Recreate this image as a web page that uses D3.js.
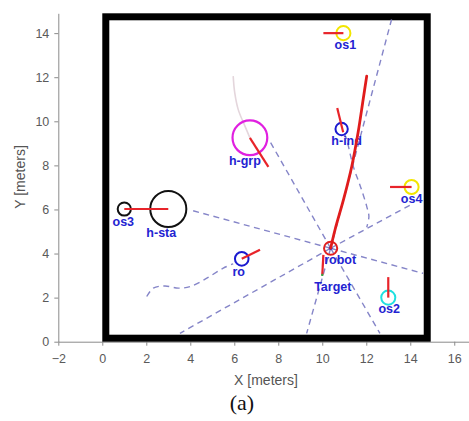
<!DOCTYPE html>
<html><head><meta charset="utf-8">
<script src="https://cdn.jsdelivr.net/npm/d3@7"></script>
<style>
html,body{margin:0;padding:0;background:#fff;}
svg{display:block;}
</style></head>
<body>
<svg id="chart" width="469" height="421"></svg>
<script>
// ---------- data (meters) ----------
const xTicks = [-2, 0, 2, 4, 6, 8, 10, 12, 14, 16];
const yTicks = [0, 2, 4, 6, 8, 10, 12, 14];
const wall = [0, 0, 14.93, 14.9]; // x0, y0, x1, y1

const agentNames = ["os1", "h-ind", "h-grp", "h-sta", "os3", "os4", "ro", "robot", "os2"];
const agentX     = [10.96, 10.88, 6.71, 3.0, 1.0, 14.06, 6.34, 10.38, 13.0];
const agentY     = [14.0, 9.65, 9.25, 6.02, 6.02, 7.02, 3.76, 4.24, 2.0];
const agentR     = [0.32, 0.28, 0.79, 0.82, 0.30, 0.32, 0.31, 0.30, 0.32];

// heading segments [x1, y1, x2, y2]
const headings = [
  [10.05, 14.0, 10.96, 14.0],
  [10.68, 10.6, 10.95, 9.5],
  [6.71, 9.25, 7.55, 7.93],
  [1.0, 6.02, 3.0, 6.02],
  [13.08, 7.02, 14.06, 7.02],
  [6.34, 3.76, 7.17, 4.17],
  [13.0, 2.93, 13.0, 2.0],
  [10.05, 3.94, 10.0, 3.03]
];

// robot trajectory (thick red)
const trajX = [10.38, 10.58, 10.98, 11.34, 11.63, 11.86, 12.02];
const trajY = [4.24, 5.08, 6.5, 7.95, 9.5, 11.0, 12.05];

// straight dashed rays from robot to end points
const rayEndX = [13.15, 7.62, 3.99, 14.0, 14.59, 12.62, 9.29, 3.53];
const rayEndY = [14.62, 9.09, 5.98, 6.2, 3.1, 0.38, 0.38, 0.38];

// curved dashed paths
const hindPathX = [11.0, 11.11, 11.41, 11.75, 12.02, 12.12, 12.02];
const hindPathY = [9.45, 9.17, 7.95, 7.0, 6.14, 5.68, 5.19];
const roPathX = [2.02, 2.32, 2.85, 3.45, 3.99, 4.75, 5.5, 5.95];
const roPathY = [2.05, 2.43, 2.53, 2.43, 2.5, 2.88, 3.34, 3.53];
const grpTrailX = [5.95, 6.02, 6.18, 6.49, 6.71];
const grpTrailY = [12.05, 11.3, 10.53, 9.77, 9.25];

const targetPoint = [10.0, 3.03];

// ---------- styles ----------
const circleColor = {"os1":"#f2e600","h-ind":"#1a1ad0","h-grp":"#e020e0","h-sta":"#111","os3":"#111",
  "os4":"#f2e600","ro":"#1a1ad0","robot":"#e02020","os2":"#20e0e0"};
const labelOffset = {"os1":[2,12],"h-ind":[5,11.5],"h-grp":[-5,23.5],"h-sta":[-7,24],"os3":[-1,12.5],
  "os4":[0,12],"ro":[-3,12.7],"robot":[9.5,12],"os2":[1,11.5]};

const svg = d3.select("#chart");
const x = d3.scaleLinear().domain([-2, 16.67]).range([58.3, 469]);
const y = d3.scaleLinear().domain([0, 14.9]).range([341.7, 13.3]);

// axes
const gx = svg.append("g").attr("transform", `translate(0,${y(0)})`)
  .call(d3.axisBottom(x).tickValues(xTicks).tickSize(4).tickSizeOuter(0).tickFormat(d3.format("d")));
const gy = svg.append("g").attr("transform", `translate(${x(-2)},0)`)
  .call(d3.axisLeft(y).tickValues(yTicks).tickSize(4).tickSizeOuter(0).tickFormat(d3.format("d")));
[gx, gy].forEach(g => {
  g.select(".domain").attr("stroke", "#8a8a8a");
  g.selectAll(".tick line").attr("stroke", "#8a8a8a");
  g.selectAll(".tick text").attr("fill", "#5a5a5a").style("font-family", "Liberation Sans, Arial, sans-serif").style("font-size", "12.5px");
});
gx.selectAll(".tick text").attr("dy", "1.15em");
gy.selectAll(".tick text").attr("dx", "-2");

svg.append("text").attr("x", 266).attr("y", 385).attr("text-anchor", "middle")
  .attr("fill", "#555").style("font-family", "Liberation Sans, Arial, sans-serif").style("font-size", "14px")
  .text("X [meters]");
svg.append("text").attr("transform", "translate(25,177) rotate(-90)").attr("text-anchor", "middle")
  .attr("fill", "#555").style("font-family", "Liberation Sans, Arial, sans-serif").style("font-size", "14px")
  .text("Y [meters]");
svg.append("text").attr("x", 242).attr("y", 410).attr("text-anchor", "middle")
  .attr("fill", "#111").style("font-family", "Liberation Serif, Times New Roman, serif").style("font-size", "22px")
  .text("(a)");

// walls
const sw = 7;
svg.append("rect")
  .attr("x", x(wall[0]) + sw/2).attr("y", y(wall[3]) + sw/2)
  .attr("width", x(wall[2]) - x(wall[0]) - sw).attr("height", y(wall[1]) - y(wall[3]) - sw)
  .attr("fill", "none").attr("stroke", "#000").attr("stroke-width", sw);

const line = d3.line().x(d => x(d[0])).y(d => y(d[1]));
const curve = d3.line().x(d => x(d[0])).y(d => y(d[1])).curve(d3.curveCatmullRom);
const dashStyle = s => s.attr("fill", "none").attr("stroke", "#8585c8").attr("stroke-width", 1.4).attr("stroke-dasharray", "6,4.5");

// faint trail of h-grp
svg.append("path").datum(grpTrailX.map((v, i) => [v, grpTrailY[i]]))
  .attr("d", curve).attr("fill", "none").attr("stroke", "#e4d6dc").attr("stroke-width", 1.6);

// dashed rays
const robotIdx = agentNames.indexOf("robot");
const rx = agentX[robotIdx], ry = agentY[robotIdx];
rayEndX.forEach((ex, i) => {
  svg.append("path").datum([[rx, ry], [ex, rayEndY[i]]]).attr("d", line).call(dashStyle);
});
svg.append("path").datum(hindPathX.map((v, i) => [v, hindPathY[i]])).attr("d", curve).call(dashStyle);
svg.append("path").datum(roPathX.map((v, i) => [v, roPathY[i]])).attr("d", curve).call(dashStyle);

// circles
agentNames.forEach((n, i) => {
  svg.append("circle").attr("cx", x(agentX[i])).attr("cy", y(agentY[i]))
    .attr("r", x(agentR[i]) - x(0)).attr("fill", "none")
    .attr("stroke", circleColor[n]).attr("stroke-width", n === "h-grp" ? 2.2 : 2);
});
svg.append("circle").attr("cx", x(rx)).attr("cy", y(ry)).attr("r", 1.8).attr("fill", "#3030d0");

// labels
const labelStyle = s => s.attr("fill", "#2323d2").style("font-family", "Liberation Sans, Arial, sans-serif")
  .style("font-size", "12.5px").style("font-weight", "bold").attr("text-anchor", "middle").attr("dominant-baseline", "central");
agentNames.forEach((n, i) => {
  const o = labelOffset[n];
  svg.append("text").attr("x", x(agentX[i]) + o[0]).attr("y", y(agentY[i]) + o[1]).call(labelStyle).text(n);
});
svg.append("text").attr("x", x(targetPoint[0]) + 10.5).attr("y", y(targetPoint[1]) + 12).call(labelStyle).text("Target");

// trajectory
svg.append("path").datum(trajX.map((v, i) => [v, trajY[i]])).attr("d", curve)
  .attr("fill", "none").attr("stroke", "#e01c1c").attr("stroke-width", 2.8).attr("stroke-linecap", "round");

// headings
headings.forEach(h => {
  svg.append("path").datum([[h[0], h[1]], [h[2], h[3]]]).attr("d", line)
    .attr("fill", "none").attr("stroke", "#e8242a").attr("stroke-width", 2.2);
});
svg.append("circle").attr("cx", x(targetPoint[0])).attr("cy", y(targetPoint[1])).attr("r", 1.2).attr("fill", "#3aa040");
</script>
</body></html>
